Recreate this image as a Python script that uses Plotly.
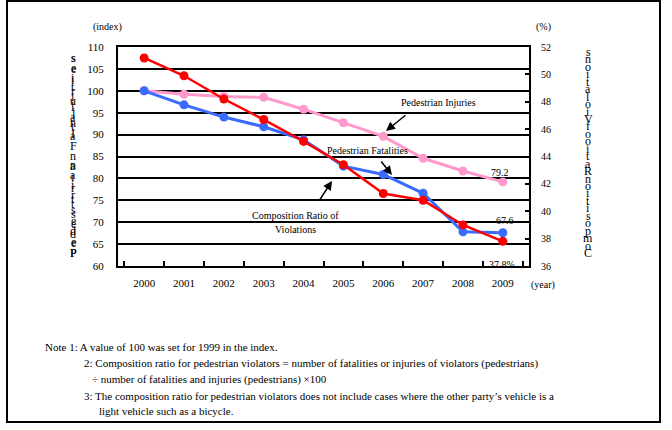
import plotly.graph_objects as go

# data
years = [str(y) for y in range(2000, 2010)]
fatalities = [100, 96.8, 94.0, 91.8, 88.8, 82.8, 80.9, 76.6, 67.8, 67.6]
injuries = [100, 99.2, 98.7, 98.5, 95.8, 92.7, 89.6, 84.6, 81.7, 79.2]
violation_ratio = [51.2, 49.9, 48.2, 46.7, 45.1, 43.4, 41.3, 40.8, 39.0, 37.8]

notes = [
    "Note 1: A value of 100 was set for 1999 in the index.",
    "2: Composition ratio for pedestrian violators = number of fatalities or injuries of violators (pedestrians)",
    "\u00f7 number of fatalities and injuries (pedestrians) \u00d7100",
    "3: The composition ratio for pedestrian violators does not include cases where the other party\u2019s vehicle is a",
    "light vehicle such as a bicycle.",
]

FONT = "Liberation Serif"
W, H = 672, 430
# plot area in pixels
L, R, T, B = 118, 529, 47, 266


def px(x, y):
    # pixel -> paper coordinates
    return (x - L) / (R - L), (B - y) / (B - T)


traces = [
    go.Scatter(x=years, y=injuries, mode='lines+markers', name='Pedestrian Injuries',
               line=dict(color='#FF99CC', width=3), marker=dict(size=9, color='#FF99CC')),
    go.Scatter(x=years, y=fatalities, mode='lines+markers', name='Pedestrian Fatalities',
               line=dict(color='#3A6BFF', width=3), marker=dict(size=9, color='#3A6BFF')),
    go.Scatter(x=years, y=violation_ratio, mode='lines+markers', yaxis='y2',
               name='Composition Ratio of Violations',
               line=dict(color='#FF0000', width=2.5), marker=dict(size=9, color='#FF0000')),
]

annotations = []


def text(x, y, s, size=10, xanchor='center'):
    xp, yp = px(x, y)
    annotations.append(dict(x=xp, y=yp, xref='paper', yref='paper', text=s, showarrow=False,
                            xanchor=xanchor, yanchor='middle',
                            font=dict(family=FONT, size=size, color='black')))


def arrow(x0, y0, x1, y1):
    # tail (x0, y0) -> head (x1, y1), pixels
    hx, hy = px(x1, y1)
    annotations.append(dict(x=hx, y=hy, xref='paper', yref='paper', ax=x0 - x1, ay=y0 - y1,
                            text='', showarrow=True,
                            arrowhead=2, arrowsize=1.2, arrowwidth=1.5, arrowcolor='black'))


def stacked(x, y_top, y_bottom, s, size=12):
    # letters stacked from bottom (first letter) to top
    chars = [c for c in s]
    n = len(chars)
    step = (y_bottom - y_top) / (n - 1)
    for i, c in enumerate(chars):
        if c == ' ':
            continue
        text(x, y_bottom - i * step, c, size=size)


# axis unit labels
text(107, 27, "(index)", 10)
text(543, 27, "(%)", 10)
text(543, 285, "(year)", 10)

# vertical axis titles
stacked(73, 58, 253, "Pedestrian Fatalities", 12)
stacked(73, 58, 253, "Pedestrian Injuries", 12)
stacked(588, 52, 253, "CompositionRatioofViolations", 12)

# series labels and arrows
text(438, 102, "Pedestrian Injuries", 10)
arrow(407, 114, 386, 131)
text(367, 150, "Pedestrian Fatalities", 10)
arrow(380, 160, 392, 175)
text(295, 215, "Composition Ratio of", 10)
text(295, 229, "Violations", 10)
arrow(319, 201, 332, 181)

# end values
text(500, 172, "{:.1f}".format(injuries[-1]), 10)
text(505, 220, "{:.1f}".format(fatalities[-1]), 10)
text(502, 264, "{:.1f}%".format(violation_ratio[-1]), 10)

# notes
note_pos = [(43, 347), (82, 363), (90, 380), (82, 396), (97, 411)]
for (nx, ny), s in zip(note_pos, notes):
    text(nx, ny, s, 11, xanchor='left')

x0, y0 = px(7, 1)
x1, y1 = px(660, 422)
shapes = [dict(type='rect', xref='paper', yref='paper', x0=x0, y0=y1, x1=x1, y1=y0,
               line=dict(color='black', width=2))]

layout = go.Layout(
    width=W, height=H,
    margin=dict(l=L, r=W - R, t=T, b=H - B),
    paper_bgcolor='white', plot_bgcolor='white',
    showlegend=False,
    font=dict(family=FONT, size=11, color='black'),
    xaxis=dict(type='category', tickson='boundaries', ticks='inside', ticklen=5,
               tickwidth=1.5, tickcolor='black', showline=True, linecolor='black',
               linewidth=2, mirror=True, showgrid=False, ticklabelstandoff=6,
               tickfont=dict(family=FONT, size=11)),
    yaxis=dict(range=[60, 110], dtick=5, showgrid=True, gridcolor='black', gridwidth=2,
               showline=True, linecolor='black', linewidth=2, ticks='', zeroline=False,
               ticklabelstandoff=10, tickfont=dict(family=FONT, size=11)),
    yaxis2=dict(range=[36, 52], dtick=2, overlaying='y', side='right', showgrid=False,
                showline=True, linecolor='black', linewidth=2, ticks='inside', ticklen=4,
                tickwidth=1.5, tickcolor='black', zeroline=False, ticklabelstandoff=8,
                tickfont=dict(family=FONT, size=10)),
    annotations=annotations,
    shapes=shapes,
)

fig = go.Figure(data=traces, layout=layout)
# drop the page's default body margin so the figure sits at the window's corner
fig.write_html("out.html", config={'displayModeBar': False},
               post_script="document.body.style.margin='0';")
